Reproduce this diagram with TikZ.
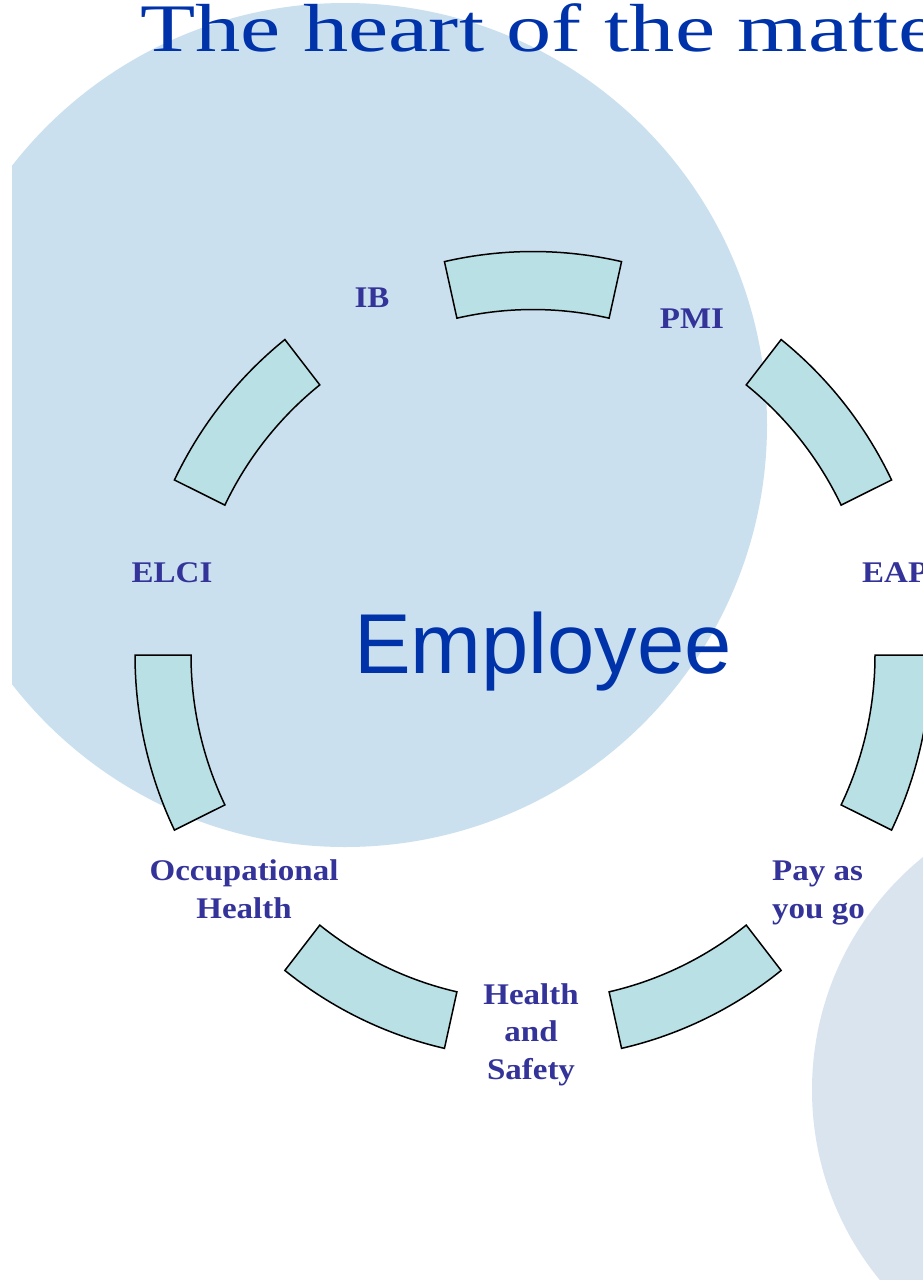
\documentclass[tikz,border=0pt]{standalone}
\usepackage{fontspec}
\setmainfont{Liberation Serif}
\newfontfamily\titlefont[FakeStretch=1.33]{Liberation Serif}
\newfontfamily\labfont[FakeStretch=1.1]{Liberation Serif}
\newfontfamily\empfont{Liberation Sans}
\definecolor{bgA}{RGB}{203,224,239}
\definecolor{bgB}{RGB}{218,228,239}
\definecolor{segfill}{RGB}{185,224,228}
\definecolor{titleblue}{RGB}{0,51,170}
\definecolor{labblue}{RGB}{51,51,153}
\tikzset{
  segbox/.style={fill=segfill, draw=black, line width=1.5pt, line join=miter},
  lab/.style={text=labblue, inner sep=0pt, font=\labfont\bfseries\fontsize{30}{37.5}\selectfont},
}
\begin{document}
\begin{tikzpicture}[x=1pt,y=-1pt]
\useasboundingbox (0,0) rectangle (923,1280);
\clip (0,0) rectangle (923,1280);
\fill[white] (0,0) rectangle (923,1280);
% background circles
\begin{scope}
  \clip (12,0) rectangle (923,1280);
  \fill[bgA] (345,425) circle[radius=422];
\end{scope}
\fill[bgB] (1112,1090) circle[radius=300];
% title
\node[anchor=base west, inner sep=0pt, text=titleblue,
      font=\titlefont\fontsize{68}{74}\selectfont] (title) at (140,51) {The heart of the matter};
% ring segments (slightly elliptical ring)
\coordinate (ctr) at (533,655);
\begin{scope}[shift={(533,655)}]
\foreach \k in {0,...,6}{
  \pgfmathsetmacro\cc{-(90-\k*360/7)}
  \pgfmathsetmacro\aa{\cc-360/28}
  \pgfmathsetmacro\bb{\cc+360/28}
  \draw[segbox] ({398*cos(\aa)},{403.5*sin(\aa)})
        arc[start angle=\aa, end angle=\bb, x radius=398, y radius=403.5]
        -- ({342*cos(\bb)},{345.5*sin(\bb)})
        arc[start angle=\bb, end angle=\aa, x radius=342, y radius=345.5] -- cycle;
}
\end{scope}
% centre text
\node[anchor=base, inner sep=0pt, text=titleblue,
      font=\empfont\fontsize{85}{90}\selectfont] (emp) at (543,673) {Employee};
% labels
\node[lab, anchor=base] (ib) at (372,307) {IB};
\node[lab, anchor=base] (pmi) at (692,328) {PMI};
\node[lab, anchor=base west] (eap) at (862,582) {EAP};
\node[lab, anchor=base] (elci) at (172,582) {ELCI};
\node[lab, align=center, anchor=center] (occ) at (244,889) {Occupational\\Health};
\node[lab, align=center, anchor=center] (hs) at (531,1034.5) {Health\\and\\Safety};
\node[lab, align=left, anchor=west] (payg) at (772,893) {Pay as\\you go};
\end{tikzpicture}
\end{document}
